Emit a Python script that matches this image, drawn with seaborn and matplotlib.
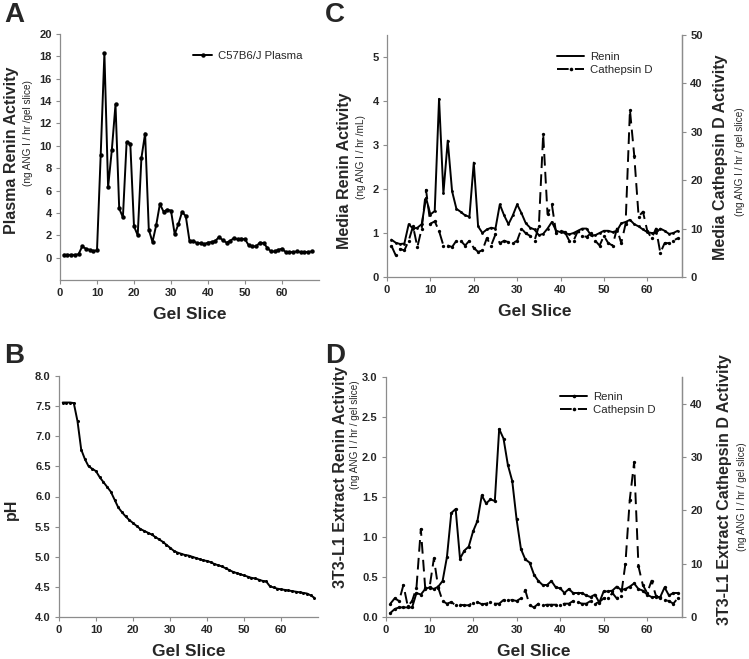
"""Gel slice activity profiles: plasma renin, pH gradient, media and 3T3-L1 extract."""

import matplotlib

matplotlib.use("Agg")
import matplotlib.pyplot as plt
import numpy as np
import seaborn as sns
from matplotlib.lines import Line2D

sns.set_style("ticks")
plt.rcParams["font.family"] = ["Liberation Sans", "DejaVu Sans"]

# ---- data ---------------------------------------------------------------
plasma_renin = [
    0.25, 0.25, 0.25, 0.25, 0.3, 1.0, 0.8, 0.7, 0.6, 0.65,
    9.2, 18.3, 6.3, 9.6, 13.7, 4.4, 3.6, 10.3, 10.2, 2.8,
    2.0, 8.9, 11.1, 2.5, 1.4, 2.9, 4.8, 4.1, 4.3, 4.2,
    2.1, 3.0, 4.1, 3.7, 1.5, 1.5, 1.3, 1.3, 1.2, 1.35,
    1.4, 1.5, 1.85, 1.55, 1.35, 1.5, 1.75, 1.65, 1.7, 1.65,
    1.1, 1.0, 1.0, 1.35, 1.3, 0.9, 0.55, 0.55, 0.7, 0.8,
    0.5, 0.5, 0.5, 0.55, 0.5, 0.5, 0.5, 0.55,
]

ph_gradient = [
    7.56, 7.56, 7.56, 7.55, 7.25, 6.78, 6.62, 6.5, 6.46, 6.42,
    6.32, 6.24, 6.16, 6.08, 5.95, 5.82, 5.74, 5.67, 5.61, 5.56,
    5.51, 5.46, 5.43, 5.4, 5.37, 5.33, 5.29, 5.25, 5.2, 5.15,
    5.1, 5.07, 5.05, 5.03, 5.02, 5.0, 4.98, 4.96, 4.94, 4.93,
    4.91, 4.88, 4.86, 4.84, 4.81, 4.78, 4.75, 4.73, 4.71, 4.69,
    4.67, 4.65, 4.64, 4.62, 4.6, 4.59, 4.51, 4.49, 4.47, 4.46,
    4.45, 4.44, 4.43, 4.42, 4.41, 4.4, 4.39, 4.36, 4.32,
]

media_renin = [
    0.85, 0.78, 0.75, 0.76, 1.2, 1.1, 1.12, 1.2, 1.8, 1.42,
    1.5, 4.05, 1.9, 3.1, 1.95, 1.55, 1.48, 1.4, 1.37, 2.6,
    1.15, 1.0, 1.08, 1.12, 1.1, 1.65, 1.4, 1.2, 1.4, 1.65,
    1.45, 1.22, 1.12, 1.08, 0.95, 0.98, 1.1, 1.25, 1.05, 1.02,
    1.0, 0.97, 1.0, 1.05, 1.1, 1.1, 0.95, 0.95, 1.0, 1.05,
    1.05, 1.02, 1.05, 1.22, 1.25, 1.3, 1.2, 1.15, 1.08, 1.02,
    1.0, 1.0, 1.1, 1.05, 0.98, 1.0, 1.05,
]

media_cathepsin = [
    6.5, 4.5, 5.8, 5.5, 7.5, 10.5, 6.2, 10.0, 18.0, 11.0,
    11.5, 9.5, 6.5, 6.5, 6.2, 7.5, 7.5, 6.5, 7.5, 6.0,
    5.2, 5.5, 8.0, 6.5, 8.8, 7.0, 7.5, 7.2, 7.0, 7.5,
    10.0, 9.0, 8.5, 7.5, 10.5, 29.5, 13.0, 15.0, 9.0, 9.5,
    9.3, 7.5, 7.5, 9.5, 8.5, 8.3, 9.0, 7.5, 6.5, 8.5,
    7.0, 6.5, 10.0, 7.0, 11.0, 34.5, 25.0, 12.5, 13.5, 9.5,
    8.0, 10.0, 5.0, 7.0, 7.0, 7.5, 8.0,
]

extract_renin = [
    0.05, 0.1, 0.12, 0.12, 0.12, 0.12, 0.3, 0.28, 0.35, 0.37,
    0.35, 0.38, 0.45, 0.75, 1.3, 1.35, 0.73, 0.83, 0.88, 1.07,
    1.2, 1.52, 1.42, 1.47, 1.45, 2.35, 2.23, 1.9, 1.7, 1.22,
    0.85, 0.72, 0.68, 0.53, 0.45, 0.4, 0.4, 0.45, 0.37, 0.36,
    0.3, 0.35, 0.3, 0.3, 0.3, 0.27, 0.25, 0.28, 0.18, 0.32,
    0.32, 0.33, 0.38, 0.34, 0.35, 0.38, 0.42, 0.35, 0.33, 0.28,
    0.25, 0.25, 0.25, 0.37, 0.27, 0.3, 0.3,
]

extract_cathepsin = [
    2.5, 3.5, 3.0, 6.0, 2.0, 3.0, 5.5, 16.5, 5.5, 5.5,
    11.0, 5.5, 3.0, 2.5, 2.8, 2.2, 2.3, 2.2, 2.2, 2.7,
    2.8, 2.4, 2.5, 2.8, 2.5, 2.5, 3.2, 3.2, 3.2, 3.0,
    3.5, 5.0, 2.2, 1.8, 2.5, 2.2, 2.3, 2.3, 2.3, 2.3,
    2.5, 2.5, 3.0, 2.8, 2.5, 2.5, 3.0, 2.5, 2.8, 3.5,
    3.5, 4.5, 3.5, 4.0, 10.0, 22.0, 29.0, 9.5, 6.0, 4.5,
    6.8, 4.0, 3.5, 3.2, 3.0, 2.5, 3.5,
]

W, H = 749, 659
SPINE = "#8c8c8c"
DASH = (0, (6, 3.2))

fig = plt.figure(figsize=(W / 100, H / 100), dpi=100)


def px_axes(x0, y0, x1, y1):
    return fig.add_axes([x0 / W, 1 - y1 / H, (x1 - x0) / W, (y1 - y0) / H])


def style(ax, right=False):
    ax.spines["top"].set_visible(False)
    ax.spines["right"].set_visible(right)
    for s in ax.spines.values():
        s.set_color(SPINE)
        s.set_linewidth(0.9)
    ax.tick_params(direction="out", length=3, width=0.8, color=SPINE,
                   labelsize=8, pad=3)
    ax.set_xlabel("")
    ax.set_ylabel("")


def bold_ticks(ax):
    for lab in ax.get_xticklabels() + ax.get_yticklabels():
        lab.set_fontweight("bold")


def line(ax, x, y, dashed=False, ms=2.6):
    sns.lineplot(x=x, y=y, ax=ax, color="black", linewidth=1.4,
                 marker="o", markersize=ms, markeredgewidth=0,
                 errorbar=None, linestyle=DASH if dashed else "-")


def ylab(x, y, text, bold=True, size=11.5):
    fig.text(x / W, 1 - y / H, text, rotation=90, ha="center", va="center",
             fontsize=size, fontweight="bold" if bold else "normal")


def xlab(ax, text):
    ax.set_xlabel(text, fontsize=12.5, fontweight="bold", labelpad=6)


def legend(ax, handles, labels, x, y, hl):
    ax.legend(handles, labels, loc="upper left", bbox_to_anchor=(x / W, 1 - y / H),
              bbox_transform=fig.transFigure, frameon=False, fontsize=8.2,
              handlelength=hl, handletextpad=0.5, labelspacing=0.3,
              borderpad=0, borderaxespad=0)


def renin_handle(ms=2.6):
    return Line2D([], [], color="black", lw=1.4, marker="o", ms=ms, mew=0)


def cath_handle():
    return Line2D([], [], color="black", lw=1.4, marker="o", ms=2.6, mew=0,
                  linestyle=DASH)


# ---- A: plasma renin -----------------------------------------------------
ax_a = px_axes(60, 34, 319, 280)
line(ax_a, np.arange(1, len(plasma_renin) + 1), plasma_renin, ms=3.2)
ax_a.set_xlim(0, 70)
ax_a.set_ylim(-2, 20)
ax_a.set_xticks(range(0, 61, 10))
ax_a.set_yticks(range(0, 21, 2))
style(ax_a)
bold_ticks(ax_a)
xlab(ax_a, "Gel Slice")
legend(ax_a, [renin_handle(3.2)], ["C57B6/J Plasma"], 193, 51, 1.7)
ylab(12, 150, "Plasma Renin Activity")
ylab(28, 133, "(ng ANG I / hr /gel slice)", bold=False, size=7.2)

# ---- B: pH gradient ------------------------------------------------------
ax_b = px_axes(59, 376, 318, 617)
line(ax_b, np.arange(1, len(ph_gradient) + 1), ph_gradient, ms=2.2)
ax_b.set_xlim(0, 70)
ax_b.set_ylim(4.0, 8.0)
ax_b.set_xticks(range(0, 61, 10))
ax_b.set_yticks(np.arange(4.0, 8.01, 0.5))
ax_b.yaxis.set_major_formatter(matplotlib.ticker.FormatStrFormatter("%.1f"))
style(ax_b)
bold_ticks(ax_b)
xlab(ax_b, "Gel Slice")
ylab(11, 509, "pH")

# ---- C: media renin / cathepsin D ---------------------------------------
ax_c = px_axes(387, 35, 682, 277)
x_c = np.arange(1, len(media_renin) + 1)
line(ax_c, x_c, media_renin, ms=2.0)
ax_c.set_xlim(0, 68)
ax_c.set_ylim(0, 5.5)
ax_c.set_xticks(range(0, 61, 10))
ax_c.set_yticks(range(0, 6))
ax_c2 = ax_c.twinx()
line(ax_c2, x_c, media_cathepsin, dashed=True, ms=2.4)
ax_c2.set_ylim(0, 50)
ax_c2.set_yticks(range(0, 51, 10))
style(ax_c, right=True)
style(ax_c2, right=True)
ax_c2.spines["left"].set_visible(False)
ax_c2.spines["bottom"].set_visible(False)
bold_ticks(ax_c)
bold_ticks(ax_c2)
xlab(ax_c, "Gel Slice")
legend(ax_c2, [Line2D([], [], color="black", lw=1.4), cath_handle()],
       ["Renin", "Cathepsin D"], 557, 52, 2.4)
ylab(345, 171, "Media Renin Activity")
ylab(361, 157, "(ng ANG I / hr /mL)", bold=False, size=7.2)
ylab(721, 157, "Media Cathepsin D Activity")
ylab(740, 162, "(ng ANG I / hr / gel slice)", bold=False, size=7.2)

# ---- D: 3T3-L1 extract renin / cathepsin D ------------------------------
ax_d = px_axes(386, 377, 682, 617)
x_d = np.arange(1, len(extract_renin) + 1)
line(ax_d, x_d, extract_renin, ms=2.4)
ax_d.set_xlim(0, 68)
ax_d.set_ylim(0, 3.0)
ax_d.set_xticks(range(0, 61, 10))
ax_d.set_yticks(np.arange(0, 3.01, 0.5))
ax_d.yaxis.set_major_formatter(matplotlib.ticker.FormatStrFormatter("%.1f"))
ax_d2 = ax_d.twinx()
line(ax_d2, x_d, extract_cathepsin, dashed=True, ms=2.4)
ax_d2.set_ylim(0, 45)
ax_d2.set_yticks(range(0, 41, 10))
style(ax_d, right=True)
style(ax_d2, right=True)
ax_d2.spines["left"].set_visible(False)
ax_d2.spines["bottom"].set_visible(False)
bold_ticks(ax_d)
bold_ticks(ax_d2)
xlab(ax_d, "Gel Slice")
legend(ax_d2, [renin_handle(), cath_handle()], ["Renin", "Cathepsin D"], 560, 392, 2.4)
ylab(340, 477, "3T3-L1 Extract Renin Activity")
ylab(355, 435, "(ng ANG I / hr / gel slice)", bold=False, size=7.2)
ylab(725, 490, "3T3-L1 Extract Cathepsin D Activity")
ylab(742, 497, "(ng ANG I / hr / gel slice)", bold=False, size=7.2)

# ---- panel letters -------------------------------------------------------
for letter, x, y in [("A", 4, 2), ("B", 4, 343), ("C", 325, 2), ("D", 325, 343)]:
    fig.text(x / W, 1 - y / H, letter, ha="left", va="top",
             fontsize=20, fontweight="bold")

fig.savefig("out.png", dpi=100)
